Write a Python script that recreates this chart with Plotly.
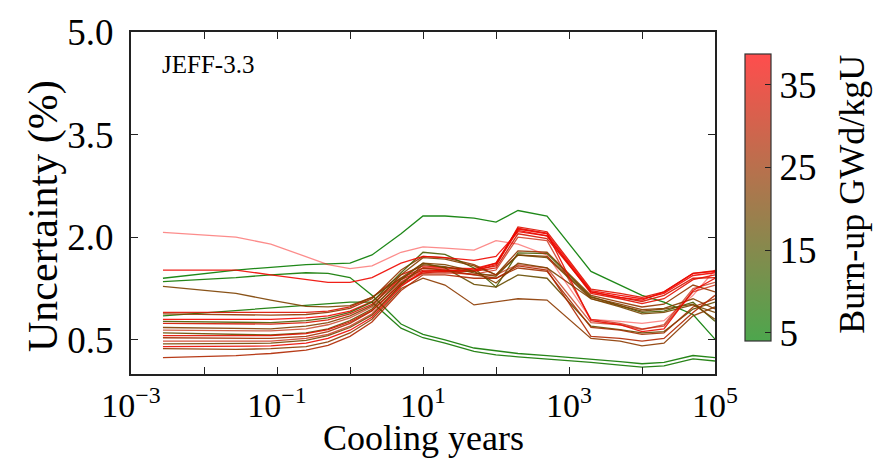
import plotly.graph_objects as go
from plotly.colors import sample_colorscale

# Cooling time grid (years)
cooling_years = [0.00274, 0.0274, 0.0822, 0.25, 0.5, 1, 2, 5, 10, 20, 50,
                 100, 200, 500, 2000, 5000, 1e4, 2e4, 5e4, 1e5]

# Relative uncertainty (%) per fuel sample, with its burn-up (GWd/kgU)
bu_g1 = 5.0
unc_g1 = [1.40, 1.52, 1.56, 1.60, 1.61, 1.62, 1.74, 2.05, 2.31, 2.31, 2.28, 2.22, 2.39, 2.31, 1.50, 1.30, 1.15, 1.05, 0.87, 0.51]
bu_g2 = 6.0
unc_g2 = [1.35, 1.41, 1.45, 1.48, 1.47, 1.41, 1.15, 0.73, 0.58, 0.50, 0.38, 0.34, 0.30, 0.27, 0.22, 0.18, 0.15, 0.17, 0.27, 0.24]
bu_g3 = 6.5
unc_g3 = [0.85, 0.93, 0.96, 1.00, 1.03, 1.05, 1.05, 0.67, 0.53, 0.45, 0.33, 0.28, 0.25, 0.22, 0.17, 0.13, 0.10, 0.12, 0.22, 0.19]
bu_p1 = 38.0
unc_p1 = [2.07, 2.00, 1.90, 1.72, 1.60, 1.54, 1.58, 1.78, 1.86, 1.84, 1.81, 1.95, 1.90, 1.74, 0.80, 0.77, 0.74, 0.78, 1.15, 1.52]
bu_r1 = 36.5
unc_r1 = [1.52, 1.52, 1.45, 1.38, 1.34, 1.34, 1.41, 1.62, 1.72, 1.70, 1.66, 1.72, 2.08, 2.02, 1.20, 1.12, 1.08, 1.20, 1.47, 1.50]
bu_br1 = 21.0
unc_br1 = [1.28, 1.18, 1.08, 0.99, 0.98, 1.00, 1.12, 1.40, 1.62, 1.60, 1.50, 1.33, 1.62, 1.55, 1.10, 1.00, 0.92, 0.95, 1.02, 0.80]
bu_b1 = 34.0
unc_b1 = [0.90, 0.90, 0.89, 0.90, 0.92, 0.98, 1.12, 1.45, 1.58, 1.56, 1.52, 1.58, 2.15, 2.08, 1.24, 1.18, 1.12, 1.20, 1.47, 1.51]
bu_b2 = 24.0
unc_b2 = [0.88, 0.87, 0.86, 0.87, 0.90, 0.96, 1.10, 1.52, 1.72, 1.70, 1.60, 1.45, 1.80, 1.78, 1.15, 1.05, 0.98, 1.02, 1.30, 1.20]
bu_b3 = 37.0
unc_b3 = [0.80, 0.80, 0.80, 0.82, 0.85, 0.92, 1.06, 1.40, 1.55, 1.55, 1.54, 1.62, 2.12, 2.05, 1.22, 1.15, 1.10, 1.18, 1.44, 1.48]
bu_b4 = 14.0
unc_b4 = [0.77, 0.76, 0.75, 0.78, 0.82, 0.90, 1.05, 1.48, 1.78, 1.75, 1.55, 1.27, 1.77, 1.76, 1.13, 1.00, 0.90, 0.92, 1.05, 0.77]
bu_b5 = 33.0
unc_b5 = [0.74, 0.73, 0.73, 0.75, 0.79, 0.88, 1.02, 1.38, 1.52, 1.52, 1.50, 1.55, 2.05, 1.98, 1.20, 1.12, 1.06, 1.15, 1.40, 1.41]
bu_b6 = 22.0
unc_b6 = [0.68, 0.66, 0.66, 0.70, 0.75, 0.85, 1.00, 1.45, 1.70, 1.68, 1.58, 1.45, 1.74, 1.72, 1.12, 1.02, 0.94, 0.96, 1.10, 0.95]
bu_b7 = 30.0
unc_b7 = [0.64, 0.63, 0.63, 0.66, 0.72, 0.82, 0.98, 1.35, 1.50, 1.50, 1.45, 1.45, 1.60, 1.55, 0.75, 0.72, 0.65, 0.72, 1.25, 1.34]
bu_b8 = 18.0
unc_b8 = [0.60, 0.58, 0.57, 0.60, 0.66, 0.78, 0.95, 1.38, 1.62, 1.55, 1.31, 1.27, 1.45, 1.40, 0.70, 0.65, 0.60, 0.62, 0.95, 1.05]
bu_b9 = 35.0
unc_b9 = [0.56, 0.56, 0.56, 0.59, 0.65, 0.76, 0.93, 1.32, 1.48, 1.50, 1.50, 1.60, 2.10, 2.02, 1.18, 1.10, 1.03, 1.10, 1.38, 1.45]
bu_b10 = 26.0
unc_b10 = [0.53, 0.52, 0.52, 0.55, 0.62, 0.74, 0.92, 1.33, 1.55, 1.52, 1.45, 1.40, 1.55, 1.50, 0.68, 0.64, 0.58, 0.60, 0.98, 1.10]
bu_b11 = 31.0
unc_b11 = [0.48, 0.48, 0.48, 0.52, 0.58, 0.70, 0.88, 1.30, 1.47, 1.48, 1.46, 1.52, 2.00, 1.95, 0.80, 0.74, 0.66, 0.70, 1.20, 1.30]
bu_b12 = 20.0
unc_b12 = [0.44, 0.44, 0.45, 0.49, 0.56, 0.68, 0.86, 1.30, 1.60, 1.57, 1.48, 1.43, 1.74, 1.70, 1.10, 0.98, 0.88, 0.90, 1.01, 0.90]
bu_b13 = 36.0
unc_b13 = [0.40, 0.40, 0.41, 0.45, 0.52, 0.64, 0.83, 1.28, 1.50, 1.52, 1.52, 1.62, 2.13, 2.06, 0.78, 0.72, 0.62, 0.66, 1.22, 1.40]
bu_b14 = 23.0
unc_b14 = [0.37, 0.36, 0.37, 0.40, 0.47, 0.60, 0.80, 1.25, 1.40, 1.30, 1.01, 1.05, 1.10, 1.08, 0.52, 0.48, 0.41, 0.45, 0.85, 0.98]
bu_b15 = 28.0
unc_b15 = [0.24, 0.27, 0.30, 0.35, 0.42, 0.55, 0.76, 1.22, 1.45, 1.45, 1.40, 1.40, 1.58, 1.52, 0.55, 0.52, 0.48, 0.52, 0.90, 1.15]

# Colour range of the burn-up scale
bu_min, bu_max = 4.0, 38.7
cbar_ticks = [5, 15, 25, 35]

y_ticks = [0.5, 2.0, 3.5, 5.0]
y_ticktext = ["0.5", "2.0", "3.5", "5.0"]
x_ticks = [1e-3, 1e-2, 1e-1, 1, 10, 100, 1e3, 1e4, 1e5]
x_ticktext = ["10<sup>\u22123</sup>", "", "10<sup>\u22121</sup>", "", "10<sup>1</sup>", "",
              "10<sup>3</sup>", "", "10<sup>5</sup>"]

samples = [
    ("g1", bu_g1, unc_g1), ("g2", bu_g2, unc_g2), ("g3", bu_g3, unc_g3),
    ("b1", bu_b1, unc_b1), ("b2", bu_b2, unc_b2), ("b3", bu_b3, unc_b3),
    ("b4", bu_b4, unc_b4), ("b5", bu_b5, unc_b5), ("b6", bu_b6, unc_b6),
    ("b7", bu_b7, unc_b7), ("b8", bu_b8, unc_b8), ("b9", bu_b9, unc_b9),
    ("b10", bu_b10, unc_b10), ("b11", bu_b11, unc_b11), ("b12", bu_b12, unc_b12),
    ("b13", bu_b13, unc_b13), ("b14", bu_b14, unc_b14), ("b15", bu_b15, unc_b15),
    ("br1", bu_br1, unc_br1), ("r1", bu_r1, unc_r1), ("p1", bu_p1, unc_p1),
]

# styling
FONT = '"Liberation Serif", "DejaVu Serif", serif'
line_scale = [[0.0, "rgb(0,128,0)"], [1.0, "rgb(255,0,0)"]]
bar_scale = [[0.0, "rgb(77,166,77)"], [1.0, "rgb(255,77,77)"]]
faded = {"p1": 0.45, "b7": 0.7, "b11": 0.75}

fig = go.Figure()
for name, bu, vals in samples:
    frac = (bu - bu_min) / (bu_max - bu_min)
    color = sample_colorscale(line_scale, [frac])[0]
    fig.add_trace(go.Scatter(
        x=cooling_years, y=vals, mode="lines",
        line=dict(color=color, width=1.3),
        opacity=faded.get(name, 0.9),
        showlegend=False, hoverinfo="skip",
    ))

# colour bar carrier (single clipped point below the axis range)
fig.add_trace(go.Scatter(
    x=[1], y=[-1], mode="markers", showlegend=False, hoverinfo="skip",
    marker=dict(
        size=1, color=[bu_min], colorscale=bar_scale, cmin=bu_min, cmax=bu_max,
        showscale=True,
        colorbar=dict(
            x=1.051, xanchor="left", y=0.516, yanchor="middle",
            len=0.838, lenmode="fraction", thickness=26, thicknessmode="pixels",
            xpad=0, ypad=0, outlinewidth=1.2, outlinecolor="#333",
            tickvals=cbar_ticks, ticks="inside", ticklen=6, tickwidth=1.3,
            tickcolor="#222", tickfont=dict(family=FONT, size=37, color="black"),
        ),
    ),
))

axis_common = dict(
    showline=True, linewidth=2, linecolor="#222", mirror="ticks",
    ticks="inside", ticklen=7, tickwidth=1.3, tickcolor="#222",
    showgrid=False, zeroline=False,
)

fig.update_layout(
    width=877, height=459,
    margin=dict(l=131, r=162, t=23, b=85),
    paper_bgcolor="white", plot_bgcolor="white",
    font=dict(family=FONT, color="black"),
    xaxis=dict(type="log", range=[-3, 5], tickvals=x_ticks, ticktext=x_ticktext,
               tickfont=dict(family=FONT, size=34, color="black"), **axis_common),
    yaxis=dict(range=[0, 5], tickvals=y_ticks, ticktext=y_ticktext,
               ticklabelstandoff=8,
               tickfont=dict(family=FONT, size=37, color="black"), **axis_common),
    annotations=[
        dict(text="JEFF-3.3", x=0.0497, y=0.906, xref="paper", yref="paper",
             xanchor="left", yanchor="middle", showarrow=False,
             font=dict(family=FONT, size=25, color="black")),
        dict(text="Cooling years", x=0.5, y=-0.186, xref="paper", yref="paper",
             xanchor="center", yanchor="middle", showarrow=False,
             font=dict(family=FONT, size=36, color="black")),
        dict(text="Uncertainty (%)", x=-0.151, y=0.4615, xref="paper", yref="paper",
             xanchor="center", yanchor="middle", showarrow=False, textangle=-90,
             font=dict(family=FONT, size=42, color="black")),
        dict(text="Burn-up GWd/kgU", x=1.2346, y=0.524, xref="paper", yref="paper",
             xanchor="center", yanchor="middle", showarrow=False, textangle=-90,
             font=dict(family=FONT, size=36, color="black")),
    ],
)

fig.write_html("out.html")
